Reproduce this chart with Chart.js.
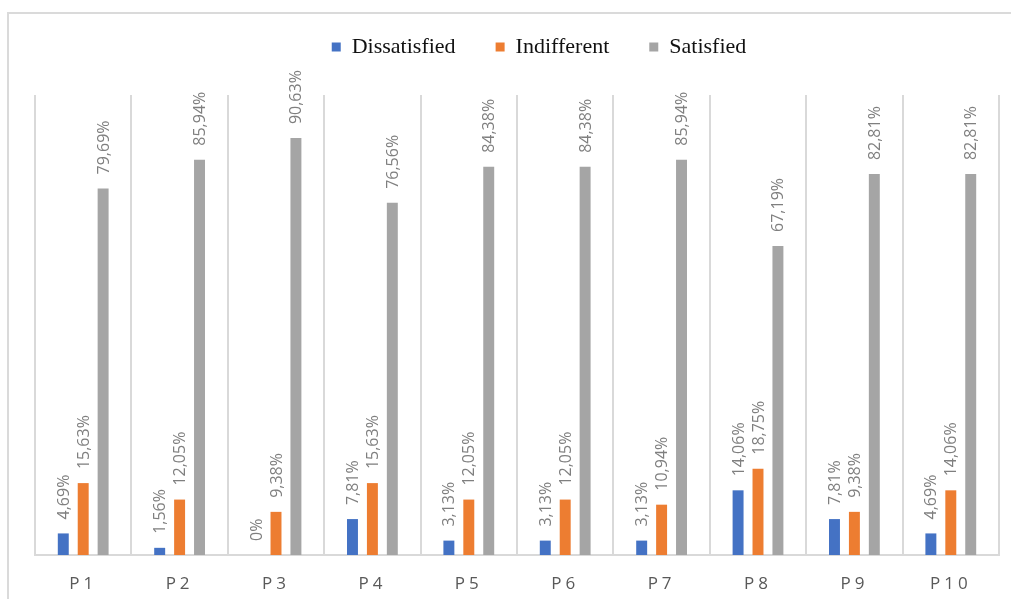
<!DOCTYPE html>
<html>
<head>
<meta charset="utf-8">
<title>Satisfaction by item</title>
<script src="https://cdn.jsdelivr.net/npm/chart.js@4.4.1/dist/chart.umd.min.js"></script>
<style>
  html, body { margin: 0; padding: 0; background: #ffffff; }
  body { width: 1011px; height: 599px; position: relative; overflow: hidden; }
  #frame {
    position: absolute; left: 7px; top: 12px; right: 0; bottom: 0;
    border-top: 2px solid #dadada; border-left: 2px solid #dadada;
  }
  #chart { position: absolute; left: 0; top: 0; }
</style>
</head>
<body>
<div id="frame"></div>
<canvas id="chart" width="1011" height="599"></canvas>
<script>
// Items and the share of answers (percent) in each group
const categories = ['P1', 'P2', 'P3', 'P4', 'P5', 'P6', 'P7', 'P8', 'P9', 'P10'];
const dissatisfied = [4.69, 1.56, 0, 7.81, 3.13, 3.13, 3.13, 14.06, 7.81, 4.69];
const indifferent = [15.63, 12.05, 9.38, 15.63, 12.05, 12.05, 10.94, 18.75, 9.38, 14.06];
const satisfied = [79.69, 85.94, 90.63, 76.56, 84.38, 84.38, 85.94, 67.19, 82.81, 82.81];
const seriesNames = ['Dissatisfied', 'Indifferent', 'Satisfied'];
const seriesColors = ['#4472c4', '#ed7d31', '#a5a5a5'];

// Percent with a decimal comma, "0%" for empty groups
function formatPercent(v) {
  return v === 0 ? '0%' : v.toFixed(2).replace('.', ',') + '%';
}

// Category axis whose labels are drawn with wider letter spacing
class SpacedCategoryScale extends Chart.CategoryScale {
  drawLabels(chartArea) {
    const ctx = this.ctx;
    const prev = ctx.letterSpacing;
    ctx.letterSpacing = '4px';
    super.drawLabels(chartArea);
    ctx.letterSpacing = prev;
  }
}
SpacedCategoryScale.id = 'spacedCategory';
SpacedCategoryScale.defaults = Chart.CategoryScale.defaults;
Chart.register(SpacedCategoryScale);

// Rotated value labels above each bar
const valueLabels = {
  id: 'valueLabels',
  afterDatasetsDraw(chart) {
    const ctx = chart.ctx;
    ctx.save();
    ctx.font = '16px "Open Sans"';
    ctx.fillStyle = '#7f7f7f';
    ctx.textAlign = 'left';
    ctx.textBaseline = 'middle';
    chart.data.datasets.forEach((ds, i) => {
      chart.getDatasetMeta(i).data.forEach((bar, j) => {
        ctx.save();
        ctx.translate(bar.x + 1, bar.y - 14);
        ctx.rotate(-Math.PI / 2);
        ctx.fillText(formatPercent(ds.data[j]), 0, 0);
        ctx.restore();
      });
    });
    ctx.restore();
  }
};

// Legend band height and its placement above the plot
const legendPlacement = {
  id: 'legendPlacement',
  beforeInit(chart) {
    const legend = chart.legend;
    const fit = legend.fit;
    legend.fit = function () {
      fit.call(this);
      this.height = 95;
    };
  },
  afterLayout(chart) {
    const legend = chart.legend;
    legend.left += 22; legend.right += 22;
    legend.top -= 4; legend.bottom -= 4;
  }
};

new Chart(document.getElementById('chart'), {
  type: 'bar',
  data: {
    labels: categories,
    datasets: [dissatisfied, indifferent, satisfied].map((values, i) => ({
      label: seriesNames[i],
      data: values,
      backgroundColor: seriesColors[i],
      borderWidth: 0,
      categoryPercentage: 0.62,
      barPercentage: 0.55
    }))
  },
  options: {
    responsive: false,
    animation: false,
    layout: { padding: { left: 35, right: 12, top: 0, bottom: 8 } },
    plugins: {
      legend: {
        position: 'top',
        labels: {
          boxWidth: 9,
          boxHeight: 9,
          padding: 40,
          color: '#111111',
          font: { family: '"Liberation Serif", serif', size: 22 }
        }
      },
      tooltip: { enabled: false }
    },
    scales: {
      x: {
        type: 'spacedCategory',
        offset: true,
        grid: { display: true, offset: true, color: '#d9d9d9', lineWidth: 2, drawTicks: false },
        border: { display: true, color: '#d9d9d9', width: 2 },
        ticks: {
          color: '#595959',
          padding: 19,
          font: { family: '"Open Sans", sans-serif', size: 17 }
        },
        afterFit(scale) { scale.height = 36; }
      },
      y: {
        display: false,
        min: 0,
        max: 100
      }
    }
  },
  plugins: [valueLabels, legendPlacement]
});
</script>
</body>
</html>
